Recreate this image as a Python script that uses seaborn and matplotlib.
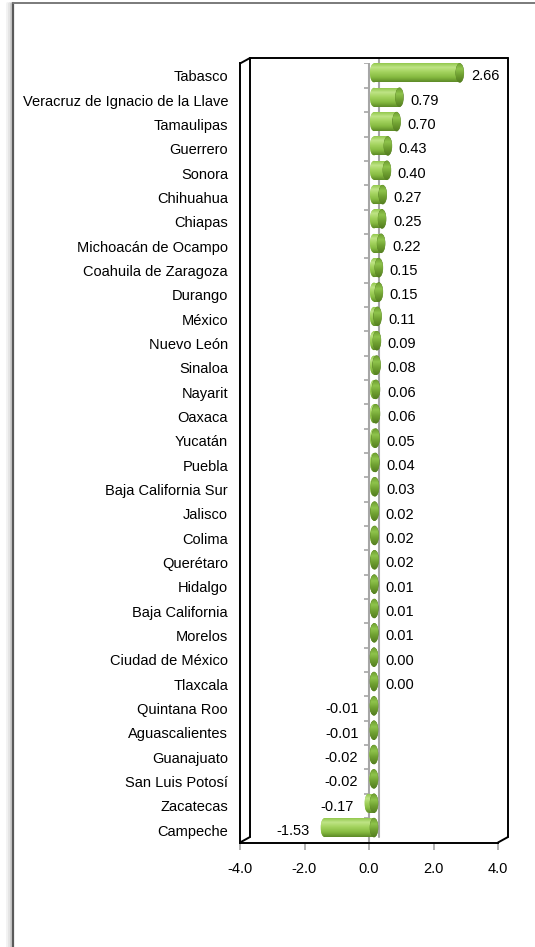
import numpy as np
import pandas as pd
import matplotlib
matplotlib.use("Agg")
import matplotlib.pyplot as plt
import seaborn as sns
from matplotlib.patches import Ellipse
from matplotlib.lines import Line2D
import matplotlib.transforms as mtransforms
from matplotlib.colors import LinearSegmentedColormap

# ---------------- data ----------------
states = [
    "Tabasco", "Veracruz de Ignacio de la Llave", "Tamaulipas", "Guerrero", "Sonora",
    "Chihuahua", "Chiapas", "Michoacán de Ocampo", "Coahuila de Zaragoza", "Durango",
    "México", "Nuevo León", "Sinaloa", "Nayarit", "Oaxaca", "Yucatán", "Puebla",
    "Baja California Sur", "Jalisco", "Colima", "Querétaro", "Hidalgo", "Baja California",
    "Morelos", "Ciudad de México", "Tlaxcala", "Quintana Roo", "Aguascalientes",
    "Guanajuato", "San Luis Potosí", "Zacatecas", "Campeche",
]
values = [
    2.66, 0.79, 0.70, 0.43, 0.40, 0.27, 0.25, 0.22, 0.15, 0.15,
    0.11, 0.09, 0.08, 0.06, 0.06, 0.05, 0.04, 0.03, 0.02, 0.02,
    0.02, 0.01, 0.01, 0.01, 0.00, 0.00, -0.01, -0.01, -0.02, -0.02,
    -0.17, -1.53,
]
x_ticks = [-4, -2, 0, 2, 4]
x_tick_labels = ["-4.0", "-2.0", "0.0", "2.0", "4.0"]

# ---------------- style ----------------
sns.set_theme(style="white")
plt.rcParams["font.family"] = ["Liberation Sans", "DejaVu Sans"]

W, H = 535, 947
fig = plt.figure(figsize=(W / 100, H / 100), dpi=100)
fig.patch.set_facecolor("white")

ax_l, ax_r, ax_t, ax_b = 240, 498, 63.5, 842.5
ax = fig.add_axes([ax_l / W, 1 - ax_b / H, (ax_r - ax_l) / W, (ax_b - ax_t) / H])
ax.set_facecolor("none")

df = pd.DataFrame({"state": states, "value": values})
sns.barplot(data=df, x="value", y="state", orient="h", color="#8cc63f",
            saturation=1, width=0.78, ax=ax, zorder=3)

ax.set_xlim(-4, 4)
ax.set_ylim(len(states) - 0.5, -0.5)

px_per_unit = (ax_r - ax_l) / 8.0
ew = 8.0 / px_per_unit  # cylinder end-cap width in data units

# offset of bars (mid depth) and of back wall
bar_off = mtransforms.ScaledTranslation(5 * 0.01, 2.75 * 0.01, fig.dpi_scale_trans)
trans_bar = ax.transData + bar_off

body_cmap = LinearSegmentedColormap.from_list(
    "body", [(0, "#93c84e"), (0.22, "#bfe486"), (0.45, "#a5d460"),
             (0.75, "#86bb41"), (1, "#5d8a27")])
cap_cmap = LinearSegmentedColormap.from_list(
    "cap", [(0, "#6f9f31"), (0.3, "#8fc44c"), (0.65, "#6e9e30"), (1, "#547e21")])
grad = np.linspace(0, 1, 64).reshape(-1, 1)

for patch, v in zip(list(ax.patches), values):
    x0, w = patch.get_x(), patch.get_width()
    y0, h = patch.get_y(), patch.get_height()
    l, r = min(x0, x0 + w), max(x0, x0 + w)
    yc = y0 + h / 2
    patch.set_transform(trans_bar)
    patch.set_edgecolor("none")
    patch.set_facecolor("#9ccf58")
    # rounded start of the cylinder
    e_left = Ellipse((l, yc), ew, h, transform=trans_bar, facecolor="#9ccf58",
                     edgecolor="none", zorder=3)
    ax.add_patch(e_left)
    for clip in (patch, e_left):
        im = ax.imshow(grad, cmap=body_cmap, extent=[l - ew / 2, r + 0.001, y0 + h, y0],
                       origin="upper", aspect="auto", interpolation="bilinear",
                       zorder=3.2)
        im.set_transform(trans_bar)
        im.set_clip_path(clip)
    # visible end cap
    cap = Ellipse((r, yc), ew, h, transform=trans_bar, facecolor="#6e9e30",
                  edgecolor="#557f22", lw=0.4, zorder=4)
    ax.add_patch(cap)
    imc = ax.imshow(grad, cmap=cap_cmap, extent=[r - ew / 2, r + ew / 2, y0 + h, y0],
                    origin="upper", aspect="auto", interpolation="bilinear", zorder=4.1)
    imc.set_transform(trans_bar)
    imc.set_clip_path(cap)

ax.set_xlim(-4, 4)
ax.set_ylim(len(states) - 0.5, -0.5)

# value labels
for i, v in enumerate(values):
    if v >= 0:
        ax.annotate(f"{v:.2f}", xy=(v, i), xytext=(11.5, -0.5), textcoords="offset points",
                    ha="left", va="center", fontsize=10.5, color="black", zorder=6)
    else:
        ax.annotate(f"{v:.2f}", xy=(v, i), xytext=(-7.2, -0.5), textcoords="offset points",
                    ha="right", va="center", fontsize=10.5, color="black", zorder=6)

# axes styling
ax.set_xlabel("")
ax.set_ylabel("")
ax.set_xticks(x_ticks)
ax.set_xticklabels(x_tick_labels)
ax.set_yticks(range(len(states)))
ax.set_yticklabels(states)
ax.tick_params(axis="y", length=0, pad=8.6, labelsize=10.5, labelcolor="black")
ax.tick_params(axis="x", length=5, width=1.2, color="#a6a6a6", pad=9,
               labelsize=10.5, labelcolor="black", direction="out", bottom=True)
for s in ("top", "right"):
    ax.spines[s].set_visible(False)
for s in ("left", "bottom"):
    ax.spines[s].set_color("black")
    ax.spines[s].set_linewidth(1.4)
    ax.spines[s].set_zorder(5)

# zero lines (front and back) and category ticks
ax.axvline(0, color="#a6a6a6", lw=1.5, zorder=1)
back_off = mtransforms.ScaledTranslation(10 * 0.01, 5.5 * 0.01, fig.dpi_scale_trans)
ax.add_line(Line2D([0, 0], [-0.5, len(states) - 0.5], transform=ax.transData + back_off,
                   color="#a6a6a6", lw=1.5, zorder=1, clip_on=False))
bounds = np.arange(-0.5, len(states), 1.0)
ax.hlines(bounds, -5 / px_per_unit, 0, color="#a6a6a6", lw=1.2, zorder=1)

# 3D box outline
dx = 10 / (ax_r - ax_l)
dy = 5.5 / (ax_b - ax_t)
box_lines = [
    ([dx, 1 + dx], [1 + dy, 1 + dy]),
    ([1 + dx, 1 + dx], [dy, 1 + dy]),
    ([dx, dx], [dy, 1 + dy]),
    ([0, dx], [1, 1 + dy]),
    ([0, dx], [0, dy]),
    ([1, 1 + dx], [0, dy]),
]
for xs, ys in box_lines:
    ax.add_line(Line2D(xs, ys, transform=ax.transAxes, color="black", lw=1.4,
                       clip_on=False, zorder=5))

# outer chart frame (cut off on right and bottom) with soft shadow
fx = 13 / W
fy = 1 - 3.5 / H
for k, c in [(6, "#f2f2f2"), (4, "#e4e4e4"), (2, "#cccccc")]:
    fig.add_artist(Line2D([fx - k / W, fx - k / W], [0, fy], transform=fig.transFigure,
                          color=c, lw=2))
fig.add_artist(Line2D([fx, fx], [0, fy], transform=fig.transFigure, color="#5a5a5a", lw=1.6))
fig.add_artist(Line2D([fx, 1.01], [fy, fy], transform=fig.transFigure, color="#7a7a7a", lw=1.4))

fig.savefig("out.png", dpi=100, facecolor="white")
